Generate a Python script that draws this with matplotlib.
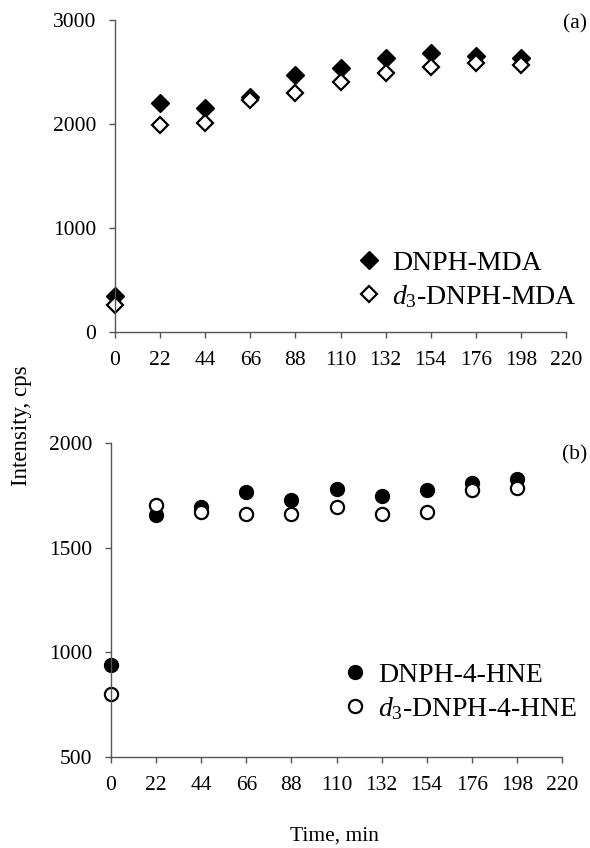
import matplotlib
matplotlib.use("Agg")
import matplotlib.pyplot as plt

plt.rcParams['font.family'] = ['Liberation Serif', 'DejaVu Serif']
plt.rcParams['mathtext.fontset'] = 'custom'
plt.rcParams['mathtext.rm'] = 'Liberation Serif'
plt.rcParams['mathtext.it'] = 'Liberation Serif:italic'

time = [0, 22, 44, 66, 88, 110, 132, 154, 176, 198]
xticks = [0, 22, 44, 66, 88, 110, 132, 154, 176, 198, 220]

mda = [342, 2205, 2157, 2262, 2467, 2534, 2630, 2678, 2653, 2637]
d3_mda = [256, 1987, 2006, 2230, 2301, 2400, 2486, 2550, 2582, 2563]

hne = [940, 1655, 1695, 1766, 1727, 1782, 1749, 1774, 1809, 1827]
d3_hne = [800, 1703, 1668, 1660, 1660, 1692, 1660, 1668, 1774, 1787]

W, H = 590, 848
fig = plt.figure(figsize=(W/100, H/100), dpi=100)
ax1 = fig.add_axes([115/W, 1-332/H, (566-115)/W, (332-20)/H])
ax2 = fig.add_axes([111/W, 1-757/H, (562-111)/W, (757-443)/H])

spine_col = '#555555'
for ax in (ax1, ax2):
    for s in ('top', 'right'):
        ax.spines[s].set_visible(False)
    for s in ('left', 'bottom'):
        ax.spines[s].set_color(spine_col)
        ax.spines[s].set_linewidth(1.0)
    ax.set_xlim(0, 220)
    ax.set_xticks(xticks)
    ax.tick_params(axis='both', direction='out', colors=spine_col, labelcolor='black',
                   labelsize=15.5, length=4.5, width=1.0)
    ax.tick_params(axis='x', pad=9)
    ax.tick_params(axis='y', pad=9)

leg_kw = dict(frameon=False, fontsize=20, handlelength=1.0, handletextpad=0.35,
              labelspacing=0.25, borderpad=0, borderaxespad=0, loc='center left')

ax1.plot(time, mda, linestyle='none', marker='D', ms=9, color='black', mec='black',
         label='DNPH-MDA', clip_on=False)
ax1.plot(time, d3_mda, linestyle='none', marker='D', ms=8, mfc='white', mec='black', mew=1.6,
         label=r'$\mathit{d_3}$-DNPH-MDA', clip_on=False)
ax1.set_ylim(0, 3000)
ax1.set_yticks([0, 1000, 2000, 3000])
ax1.legend(bbox_to_anchor=(355/W, 1-280/H), bbox_transform=fig.transFigure, **leg_kw)
ax1.text(587/W, 1-24/H, '(a)', transform=fig.transFigure, ha='right', va='center', fontsize=15.5)

ax2.plot(time, hne, linestyle='none', marker='o', ms=10, color='black',
         label='DNPH-4-HNE', clip_on=False)
ax2.plot(time, d3_hne, linestyle='none', marker='o', ms=9.5, mfc='white', mec='black', mew=1.6,
         label=r'$\mathit{d_3}$-DNPH-4-HNE', clip_on=False)
ax2.set_ylim(500, 2000)
ax2.set_yticks([500, 1000, 1500, 2000])
ax2.legend(bbox_to_anchor=(341/W, 1-692/H), bbox_transform=fig.transFigure, **leg_kw)
ax2.text(587/W, 1-455/H, '(b)', transform=fig.transFigure, ha='right', va='center', fontsize=15.5)

fig.text(22/W, 1-426/H, 'Intensity, cps', rotation=90, ha='center', va='center', fontsize=16.5)
fig.text(334/W, 1-836/H, 'Time, min', ha='center', va='center', fontsize=15.5)

fig.savefig('out.png', dpi=100)
